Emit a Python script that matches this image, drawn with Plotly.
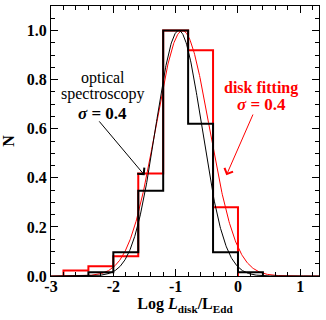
import numpy as np
import plotly.graph_objects as go

# Histogram data (bin width 0.4)
black_edges = [-2.4, -2.0, -1.6, -1.2, -0.8, -0.4, 0.0, 0.4]
black_counts = [0.015, 0.097, 0.347, 1.0, 0.62, 0.097, 0.015]
red_edges = [-2.8, -2.4, -2.0, -1.6, -1.2, -0.8, -0.4, 0.0]
red_counts = [0.022, 0.04, 0.08, 0.418, 1.0, 0.92, 0.28]

# Gaussian fits
black_mu, black_sigma, black_amp = -0.95, 0.37, 1.0
red_mu, red_sigma, red_amp = -0.89, 0.43, 1.0

x_ticks = [-3, -2, -1, 0, 1]
x_tick_labels = ["-3", "-2", "-1", "0", "1"]
y_ticks = [0.0, 0.2, 0.4, 0.6, 0.8, 1.0]

FONT = "Liberation Serif"

def step(edges, counts):
    x = [edges[0]] + list(edges)
    y = [0] + list(counts) + [0]
    return x, y

xg = np.linspace(-3, 1.3, 600)
black_curve = black_amp * np.exp(-(xg - black_mu) ** 2 / (2 * black_sigma ** 2))
red_curve = red_amp * np.exp(-(xg - red_mu) ** 2 / (2 * red_sigma ** 2))

fig = go.Figure()
rx, ry = step(red_edges, red_counts)
bx, by = step(black_edges, black_counts)
fig.add_trace(go.Scatter(x=rx, y=ry, mode="lines", line=dict(color="red", width=2, shape="hv")))
fig.add_trace(go.Scatter(x=xg, y=red_curve, mode="lines", line=dict(color="red", width=1)))
fig.add_trace(go.Scatter(x=xg, y=black_curve, mode="lines", line=dict(color="black", width=1)))
fig.add_trace(go.Scatter(x=bx, y=by, mode="lines", line=dict(color="black", width=2, shape="hv")))

ann = []
def txt(x, y, s, color, size=16):
    ann.append(dict(x=x, y=y, xref="x", yref="y", text=s, showarrow=False,
                    font=dict(family=FONT, size=size, color=color)))

txt(-2.166, 0.807, "optical", "black")
txt(-2.166, 0.741, "spectroscopy", "black")
txt(-2.166, 0.664, "<b><i>σ</i> = 0.4</b>", "black", 17)
txt(0.374, 0.766, "<b>disk fitting</b>", "red", 16)
txt(0.374, 0.698, "<b><i>σ</i> = 0.4</b>", "red", 17)

ann.append(dict(x=-1.497, y=0.41, ax=-2.246, ay=0.636, xref="x", yref="y", axref="x", ayref="y",
                text="", showarrow=True, arrowhead=4, arrowsize=1.8, arrowwidth=1, arrowcolor="black"))
ann.append(dict(x=-0.187, y=0.41, ax=0.251, ay=0.664, xref="x", yref="y", axref="x", ayref="y",
                text="", showarrow=True, arrowhead=4, arrowsize=1.8, arrowwidth=1, arrowcolor="red"))

fig.update_layout(
    width=326, height=320,
    margin=dict(l=51, r=7, t=6, b=44),
    plot_bgcolor="white", paper_bgcolor="white",
    showlegend=False,
    annotations=ann,
    font=dict(family=FONT, size=16, color="black"),
    xaxis=dict(range=[-3, 1.3], tickvals=x_ticks, ticktext=["<b>%s</b>" % t for t in x_tick_labels],
               ticks="inside", ticklen=7, tickwidth=1, tickcolor="black",
               showline=True, linecolor="black", linewidth=1, mirror="ticks",
               showgrid=False, zeroline=False, ticklabelstandoff=-4,
               tickfont=dict(family=FONT, size=16),
               minor=dict(dtick=0.2, ticks="inside", ticklen=4, tickcolor="black", showgrid=False),
               title=dict(text="<b>Log <i>L</i><sub>disk</sub>/L<sub>Edd</sub></b>", standoff=0,
                          font=dict(family=FONT, size=16))),
    yaxis=dict(range=[0, 1.1], tickvals=y_ticks, ticktext=["<b>%.1f</b>" % v for v in y_ticks],
               ticks="inside", ticklen=7, tickwidth=1, tickcolor="black",
               showline=True, linecolor="black", linewidth=1, mirror="ticks",
               showgrid=False, zeroline=False,
               tickfont=dict(family=FONT, size=16),
               minor=dict(dtick=0.05, ticks="inside", ticklen=4, tickcolor="black", showgrid=False),
               title=dict(text="<b>N</b>", standoff=8, font=dict(family=FONT, size=16))),
)

fig.write_html("out.html", config={"displayModeBar": False},
               post_script="document.body.style.margin='0px';")
